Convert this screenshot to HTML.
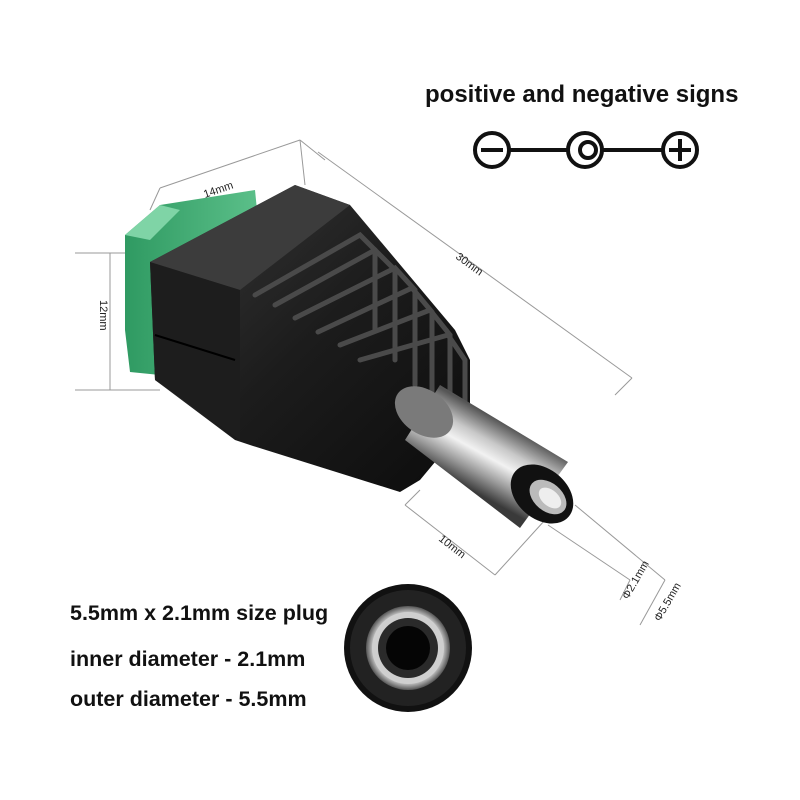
<!DOCTYPE html>
<html><head><meta charset="utf-8"><style>
html,body{margin:0;padding:0;background:#fff;width:800px;height:800px;overflow:hidden}
svg{display:block}
.t{font-family:"Liberation Sans",Arial,sans-serif;font-weight:bold;fill:#111}
.d{font-family:"Liberation Sans",Arial,sans-serif;font-size:11px;fill:#222}
</style></head><body>
<svg width="800" height="800" viewBox="0 0 800 800" xmlns="http://www.w3.org/2000/svg">
<defs>
<linearGradient id="blk" x1="0" y1="0" x2="1" y2="1">
<stop offset="0" stop-color="#3a3a3a"/><stop offset="0.5" stop-color="#1c1c1c"/><stop offset="1" stop-color="#0c0c0c"/></linearGradient>
<linearGradient id="grn" x1="0" y1="0" x2="1" y2="0">
<stop offset="0" stop-color="#2f9a62"/><stop offset="1" stop-color="#5cc08a"/></linearGradient>
<linearGradient id="met" gradientUnits="userSpaceOnUse" x1="462" y1="485" x2="498" y2="420">
<stop offset="0" stop-color="#3a3a3a"/><stop offset="0.25" stop-color="#9a9a9a"/><stop offset="0.5" stop-color="#f2f2f2"/><stop offset="0.7" stop-color="#c8c8c8"/><stop offset="1" stop-color="#555"/></linearGradient>
<radialGradient id="ring" cx="0.5" cy="0.5" r="0.5">
<stop offset="0.6" stop-color="#222"/><stop offset="0.85" stop-color="#bdbdbd"/><stop offset="1" stop-color="#555"/></radialGradient>
</defs>

<text class="t" x="425" y="102" font-size="24">positive and negative signs</text>
<g stroke="#111" stroke-width="4" fill="none">
<circle cx="492" cy="150" r="17"/><line x1="481" y1="150" x2="503" y2="150"/>
<line x1="509" y1="150" x2="568" y2="150"/>
<circle cx="585" cy="150" r="17"/><circle cx="588" cy="150" r="8"/>
<line x1="602" y1="150" x2="663" y2="150"/>
<circle cx="680" cy="150" r="17"/><line x1="669" y1="150" x2="691" y2="150"/><line x1="680" y1="139" x2="680" y2="161"/>
</g>

<g stroke="#999" stroke-width="1" fill="none">
<line x1="160" y1="188" x2="300" y2="140"/>
<line x1="160" y1="188" x2="150" y2="210"/><line x1="300" y1="140" x2="305" y2="185"/>
<line x1="318" y1="152" x2="632" y2="378"/>
<line x1="300" y1="140" x2="325" y2="160"/><line x1="632" y1="378" x2="615" y2="395"/>
<line x1="75" y1="253" x2="155" y2="253"/><line x1="75" y1="390" x2="160" y2="390"/>
<line x1="110" y1="253" x2="110" y2="390"/>
<line x1="405" y1="505" x2="495" y2="575"/>
<line x1="405" y1="505" x2="420" y2="490"/><line x1="495" y1="575" x2="545" y2="520"/>
<line x1="548" y1="525" x2="630" y2="580"/><line x1="575" y1="505" x2="665" y2="580"/>
<line x1="630" y1="580" x2="620" y2="600"/><line x1="665" y1="580" x2="640" y2="625"/>
</g>
<text class="d" transform="translate(205,198) rotate(-19)">14mm</text>
<text class="d" transform="translate(100,300) rotate(90)">12mm</text>
<text class="d" transform="translate(455,258) rotate(36)">30mm</text>
<text class="d" transform="translate(438,540) rotate(38)">10mm</text>
<text class="d" transform="translate(628,600) rotate(-60)">Φ2.1mm</text>
<text class="d" transform="translate(660,622) rotate(-60)">Φ5.5mm</text>

<polygon points="125,235 160,205 255,190 260,240 160,260 160,375 130,372 125,330" fill="url(#grn)"/>
<polygon points="125,235 160,205 180,210 150,240" fill="#7fd4a6"/>
<polygon points="150,262 295,185 350,205 455,330 470,360 470,420 420,480 400,492 250,445 235,440 155,380" fill="url(#blk)"/>
<polygon points="150,262 295,185 350,205 240,290" fill="#3c3c3c"/>
<polygon points="150,262 240,290 240,440 155,380" fill="#1d1d1d"/>
<g stroke="#4a4a4a" stroke-width="5" fill="none" stroke-linecap="round">
<path d="M255,295 L360,235 L375,250 L375,330"/>
<path d="M275,305 L375,250 L395,270 L395,360"/>
<path d="M295,318 L395,268 L415,290 L415,385"/>
<path d="M318,332 L412,288 L432,312 L432,410"/>
<path d="M340,345 L430,310 L450,335 L450,430"/>
<path d="M360,360 L448,335 L465,360 L465,415"/>
</g>
<line x1="155" y1="335" x2="235" y2="360" stroke="#000" stroke-width="2"/>
<!-- metal barrel -->
<polygon points="405,440 440,385 568,462 520,528" fill="url(#met)"/>
<ellipse cx="424" cy="412" rx="22" ry="32" transform="rotate(-55 424 412)" fill="#7a7a7a"/>
<ellipse cx="542" cy="494" rx="25" ry="35" transform="rotate(-50 542 494)" fill="#111"/>
<ellipse cx="548" cy="497" rx="14" ry="21" transform="rotate(-50 548 497)" fill="#bbb"/>
<ellipse cx="550" cy="498" rx="8" ry="13" transform="rotate(-50 550 498)" fill="#eee"/>

<text class="t" x="70" y="620" font-size="21.5">5.5mm x 2.1mm size plug</text>
<text class="t" x="70" y="666" font-size="21.5">inner diameter - 2.1mm</text>
<text class="t" x="70" y="706" font-size="21.5">outer diameter - 5.5mm</text>

<circle cx="408" cy="648" r="64" fill="#111"/>
<circle cx="408" cy="648" r="58" fill="#222"/>
<circle cx="408" cy="648" r="42" fill="url(#ring)"/>
<circle cx="408" cy="648" r="36" fill="#cfcfcf"/>
<circle cx="408" cy="648" r="30" fill="#2a2a2a"/>
<circle cx="408" cy="648" r="22" fill="#050505"/>
</svg>
</body></html>
